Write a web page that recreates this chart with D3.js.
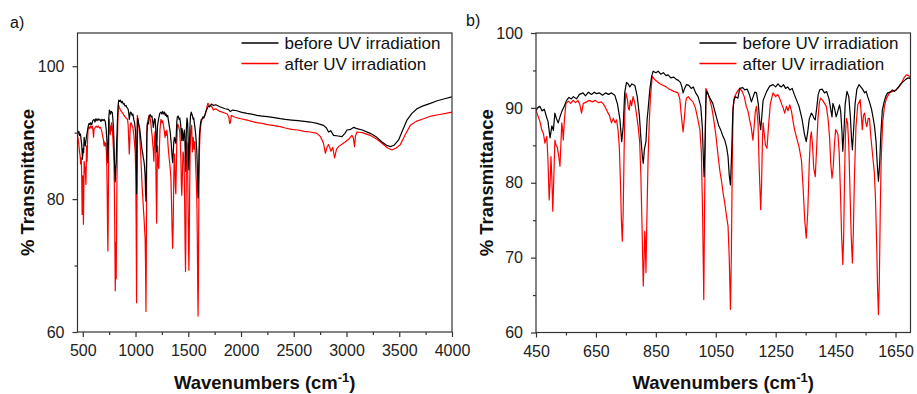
<!DOCTYPE html>
<html>
<head>
<meta charset="utf-8">
<script src="https://cdn.jsdelivr.net/npm/d3@7"></script>
<style>
  body { margin: 0; background: #fff; }
  svg { font-family: "Liberation Sans", Arial, sans-serif; }
  .axis path, .axis line { stroke: #333; stroke-width: 1.2; }
  .axis text { font-size: 16px; fill: #222; }
</style>
</head>
<body>
<svg width="917" height="394"></svg>
<script>
// FTIR spectra, [wavenumber, %T]
// fingerprint region 450-1700 (shared by both panels)
const beforeLow = [[450,89.6],[455,90.0],[463,90.2],[470,89.6],[478,89.8],[485,88.8],[490,88.2],[497,86.0],[503,87.6],[508,87.0],[513,89.3],[518,88.6],[524,88.0],[530,88.8],[536,89.5],[545,90.3],[552,91.0],[560,91.4],[568,91.2],[575,91.5],[585,91.2],[595,91.8],[607,92.0],[615,91.6],[625,92.1],[635,91.8],[645,92.1],[652,91.9],[662,92.0],[672,91.7],[682,92.0],[692,91.8],[702,92.0],[713,91.7],[722,90.5],[730,88.5],[736,85.5],[741,87.5],[746,92.0],[752,93.4],[758,93.2],[763,92.8],[770,93.2],[780,93.0],[788,91.5],[795,89.0],[800,86.0],[805,83.5],[808,82.6],[812,84.5],[817,85.5],[821,88.5],[824,89.7],[830,92.5],[836,94.2],[841,94.9],[850,94.7],[858,94.9],[866,94.5],[875,94.7],[884,94.3],[891,94.4],[900,94.0],[910,94.1],[918,93.8],[924,93.7],[932,93.4],[937,92.8],[941,92.0],[946,92.6],[952,93.1],[960,93.0],[968,92.6],[975,92.8],[983,92.0],[991,91.5],[1000,90.2],[1005,87.5],[1008,84.0],[1011,80.8],[1014,85.0],[1017,90.5],[1019,92.2],[1025,91.8],[1032,91.2],[1040,90.6],[1052,88.8],[1060,87.6],[1067,87.0],[1074,86.2],[1080,85.7],[1086,84.8],[1091,83.5],[1095,81.0],[1099,79.7],[1103,84.0],[1107,89.5],[1111,91.1],[1116,91.5],[1124,91.3],[1130,92.6],[1140,92.7],[1147,92.4],[1155,92.5],[1162,91.8],[1169,90.8],[1175,91.5],[1180,92.1],[1186,92.0],[1192,90.5],[1197,88.0],[1200,87.1],[1204,89.0],[1208,91.0],[1213,91.5],[1220,92.2],[1230,92.9],[1241,93.1],[1250,92.8],[1258,93.2],[1264,92.9],[1269,92.8],[1276,93.1],[1283,92.6],[1290,92.8],[1297,92.4],[1305,92.6],[1312,91.8],[1319,91.1],[1328,90.2],[1338,88.5],[1346,86.5],[1352,85.5],[1357,86.8],[1362,88.5],[1369,89.3],[1374,89.0],[1378,88.6],[1382,88.4],[1387,90.0],[1392,91.8],[1397,92.4],[1405,92.5],[1413,92.0],[1420,92.2],[1428,91.2],[1433,90.0],[1438,88.8],[1441,90.6],[1446,90.0],[1452,88.8],[1457,89.5],[1463,90.4],[1467,89.5],[1471,87.0],[1474,84.2],[1478,87.0],[1482,90.5],[1488,92.2],[1494,91.5],[1499,89.0],[1503,86.0],[1506,84.4],[1510,87.0],[1515,90.5],[1521,92.5],[1528,93.1],[1534,92.8],[1540,92.5],[1547,92.0],[1552,92.2],[1557,91.5],[1563,90.8],[1570,89.8],[1576,88.5],[1580,87.5],[1585,85.5],[1589,82.5],[1593,80.2],[1597,82.5],[1601,86.5],[1606,89.7],[1612,90.8],[1618,91.6],[1624,92.0],[1632,92.1],[1640,92.4],[1647,92.2],[1652,92.4],[1660,92.8],[1668,93.2],[1676,93.5],[1684,93.8],[1691,94.0],[1700,93.9]];

const afterLow = [[450,89.7],[456,89.0],[463,88.2],[469,87.1],[475,86.5],[480,85.3],[486,86.2],[490,83.0],[494,77.7],[497,80.0],[500,83.5],[503,80.5],[506,76.2],[509,80.0],[513,85.7],[517,85.0],[521,84.8],[526,83.5],[530,82.2],[533,85.0],[536,88.0],[539,87.0],[541,85.7],[545,88.5],[550,90.6],[558,90.9],[566,90.6],[574,91.0],[582,90.7],[590,91.0],[596,90.5],[602,89.3],[608,90.6],[619,90.8],[628,91.0],[638,90.8],[648,91.0],[658,90.7],[668,90.8],[675,90.5],[680,90.2],[688,89.5],[695,89.0],[702,88.0],[708,88.6],[714,88.0],[719,88.4],[724,87.0],[728,84.8],[732,80.0],[735,75.0],[738,72.2],[741,76.0],[744,84.0],[747,90.0],[750,92.0],[755,91.2],[758,90.0],[761,89.7],[765,91.0],[769,90.3],[774,91.5],[780,90.6],[786,89.0],[791,87.5],[796,85.5],[800,81.0],[804,74.0],[808,66.2],[811,70.0],[813,73.5],[815,72.0],[817,68.0],[820,75.0],[824,83.0],[828,88.0],[832,91.5],[838,94.2],[846,93.8],[855,93.5],[865,93.2],[875,93.0],[885,92.8],[891,92.6],[900,92.4],[910,92.2],[918,92.1],[924,92.0],[930,91.2],[935,89.0],[941,86.8],[945,88.5],[949,90.5],[952,91.3],[958,91.5],[966,91.1],[974,90.8],[982,90.0],[990,88.5],[997,87.1],[1002,84.0],[1006,76.0],[1010,64.4],[1013,78.0],[1017,92.6],[1022,92.2],[1029,91.2],[1036,90.2],[1043,88.5],[1050,86.5],[1058,83.5],[1064,81.5],[1070,80.0],[1075,78.5],[1080,77.3],[1086,75.5],[1091,74.2],[1095,70.0],[1099,63.1],[1102,70.0],[1105,82.0],[1108,90.2],[1113,91.5],[1119,92.0],[1124,92.3],[1130,92.6],[1138,92.2],[1145,91.5],[1152,90.2],[1158,89.5],[1163,88.4],[1168,87.5],[1174,85.7],[1178,87.5],[1182,89.5],[1186,90.2],[1191,88.0],[1195,82.0],[1200,76.4],[1203,80.0],[1206,86.0],[1208,88.0],[1212,86.5],[1216,85.0],[1221,84.6],[1226,87.5],[1232,90.5],[1241,92.0],[1250,91.5],[1257,91.8],[1263,91.3],[1270,90.5],[1275,90.0],[1280,89.3],[1286,90.2],[1291,89.6],[1297,90.4],[1303,89.5],[1308,88.2],[1313,87.1],[1320,86.0],[1328,84.8],[1336,83.0],[1342,79.0],[1347,75.0],[1352,72.6],[1357,76.0],[1362,82.5],[1366,86.0],[1369,86.8],[1373,85.0],[1377,82.0],[1382,80.8],[1386,84.0],[1391,88.5],[1396,90.8],[1400,91.3],[1407,91.0],[1413,90.6],[1419,90.2],[1425,88.5],[1430,86.0],[1434,82.5],[1438,80.6],[1442,82.0],[1446,85.0],[1450,87.1],[1454,86.8],[1458,86.4],[1462,84.0],[1466,79.0],[1470,73.0],[1474,69.1],[1477,73.0],[1480,81.0],[1483,86.5],[1486,88.6],[1490,88.0],[1494,85.0],[1498,79.0],[1502,73.0],[1506,69.3],[1509,73.0],[1513,81.0],[1518,87.5],[1524,90.4],[1532,91.1],[1535,89.5],[1539,87.1],[1543,89.0],[1547,89.3],[1551,88.0],[1554,87.5],[1559,88.6],[1563,88.6],[1568,86.0],[1574,83.5],[1579,81.5],[1583,78.0],[1587,72.0],[1590,66.0],[1593,62.4],[1596,67.0],[1599,76.0],[1602,83.0],[1607,88.0],[1613,90.2],[1620,91.3],[1630,92.0],[1640,92.2],[1652,92.4],[1660,92.7],[1670,93.3],[1678,94.0],[1686,94.4],[1694,94.3],[1700,94.0]];

// 1700-4000, only in panel a
const beforeHigh = [[1700,93.9],[1720,94.3],[1740,94.1],[1760,94.2],[1800,93.9],[1850,93.6],[1880,93.5],[1897,93.2],[1920,93.4],[1960,93.3],[2000,93.1],[2056,92.9],[2100,92.8],[2150,92.6],[2200,92.5],[2250,92.4],[2300,92.3],[2372,92.1],[2420,92.0],[2480,91.9],[2540,91.8],[2600,91.7],[2658,91.6],[2720,91.4],[2782,91.1],[2810,90.7],[2830,90.1],[2850,90.3],[2877,89.6],[2920,89.5],[2957,89.4],[2985,89.9],[3004,90.4],[3040,90.5],[3070,90.8],[3099,90.6],[3150,90.4],[3225,89.9],[3280,89.4],[3336,88.6],[3380,88.1],[3415,87.9],[3450,88.1],[3494,88.9],[3530,90.3],[3573,91.9],[3620,92.9],[3668,93.6],[3720,94.0],[3794,94.4],[3860,94.8],[3930,95.1],[4000,95.4]];

const afterHigh = [[1700,94.0],[1720,94.0],[1738,93.4],[1760,93.6],[1800,93.2],[1840,93.0],[1870,92.8],[1885,92.3],[1892,91.4],[1900,91.5],[1908,92.6],[1930,92.4],[1970,92.2],[2000,92.1],[2056,91.9],[2100,91.7],[2150,91.5],[2200,91.4],[2250,91.2],[2300,91.1],[2372,90.9],[2420,90.7],[2480,90.5],[2540,90.4],[2600,90.2],[2658,90.1],[2720,89.9],[2753,89.4],[2780,88.5],[2800,86.9],[2815,87.8],[2830,88.2],[2853,87.2],[2870,87.8],[2887,86.2],[2905,87.5],[2924,87.9],[2960,88.3],[2987,88.6],[3020,89.0],[3051,89.6],[3065,89.2],[3076,87.9],[3085,89.5],[3099,90.1],[3150,90.0],[3225,89.6],[3280,89.1],[3336,88.4],[3390,87.7],[3431,87.4],[3470,87.7],[3510,88.2],[3560,89.8],[3605,91.1],[3660,91.7],[3731,92.1],[3800,92.5],[3870,92.7],[3940,92.9],[4000,93.1]];

const seriesNames = ['before UV irradiation', 'after UV irradiation'];
const seriesColors = ['#000000', '#ff0000'];

const xTicksA = [500, 1000, 1500, 2000, 2500, 3000, 3500, 4000];
const xMinorA = [750, 1250, 1750, 2250, 2750, 3250, 3750];
const yTicksA = [60, 80, 100];
const yMinorA = [70, 90];
const xTicksB = [450, 650, 850, 1050, 1250, 1450, 1650];
const xMinorB = [550, 750, 950, 1150, 1350, 1550];
const yTicksB = [60, 70, 80, 90, 100];
const yMinorB = [65, 75, 85, 95];

const svg = d3.select('svg');

function drawPanel(opt) {
  const x = d3.scaleLinear().domain(opt.xDomain).range([opt.left, opt.right]);
  const y = d3.scaleLinear().domain(opt.yDomain).range([opt.bottom, opt.top]);
  const g = svg.append('g');

  g.append('clipPath').attr('id', opt.id + '-clip')
    .append('rect')
    .attr('x', opt.left).attr('y', opt.top)
    .attr('width', opt.right - opt.left).attr('height', opt.bottom - opt.top);

  const line = d3.line().x(d => x(d[0])).y(d => y(d[1]));
  const plot = g.append('g').attr('clip-path', 'url(#' + opt.id + '-clip)');
  // red first, black on top
  [1, 0].forEach(i => {
    plot.append('path')
      .datum(opt.series[i])
      .attr('fill', 'none')
      .attr('stroke', seriesColors[i])
      .attr('stroke-width', 1.2)
      .attr('stroke-linejoin', 'round')
      .attr('d', line);
  });

  // frame
  g.append('rect')
    .attr('x', opt.left).attr('y', opt.top)
    .attr('width', opt.right - opt.left).attr('height', opt.bottom - opt.top)
    .attr('fill', 'none').attr('stroke', '#333').attr('stroke-width', 1.2);

  // axes with minor ticks
  g.append('g').attr('class', 'axis')
    .attr('transform', 'translate(0,' + opt.bottom + ')')
    .call(d3.axisBottom(x).tickValues(opt.xTicks).tickFormat(d3.format('d'))
      .tickSize(5).tickPadding(8).tickSizeOuter(0));
  g.append('g').attr('class', 'axis')
    .attr('transform', 'translate(0,' + opt.bottom + ')')
    .call(d3.axisBottom(x).tickValues(opt.xMinor).tickFormat('').tickSize(3).tickSizeOuter(0));
  g.append('g').attr('class', 'axis')
    .attr('transform', 'translate(' + opt.left + ',0)')
    .call(d3.axisLeft(y).tickValues(opt.yTicks).tickSize(5).tickPadding(8).tickSizeOuter(0));
  g.append('g').attr('class', 'axis')
    .attr('transform', 'translate(' + opt.left + ',0)')
    .call(d3.axisLeft(y).tickValues(opt.yMinor).tickFormat('').tickSize(3).tickSizeOuter(0));
  g.selectAll('.axis .domain').remove();

  // axis titles
  const xt = g.append('text')
    .attr('x', (opt.left + opt.right) / 2).attr('y', 389)
    .attr('text-anchor', 'middle')
    .style('font-size', '18.5px').style('font-weight', 'bold').attr('fill', '#111');
  xt.append('tspan').text('Wavenumbers (cm');
  xt.append('tspan').text('-1').attr('dy', -7).style('font-size', '13px');
  xt.append('tspan').text(')').attr('dy', 7);

  g.append('text')
    .attr('transform', 'translate(' + opt.yTitleX + ',' + (opt.top + opt.bottom) / 2 + ') rotate(-90)')
    .attr('text-anchor', 'middle')
    .style('font-size', '18.5px').style('font-weight', 'bold').attr('fill', '#111')
    .text('% Transmittance');

  // panel label
  g.append('text').attr('x', opt.labelX).attr('y', opt.labelY)
    .style('font-size', '16px').attr('fill', '#111').text(opt.label);

  // legend
  seriesNames.forEach((name, i) => {
    const ly = opt.legendY + i * 20.5;
    g.append('line')
      .attr('x1', opt.legendX).attr('x2', opt.legendX + 37)
      .attr('y1', ly).attr('y2', ly)
      .attr('stroke', seriesColors[i]).attr('stroke-width', 1.3);
    g.append('text')
      .attr('x', opt.legendX + 43).attr('y', ly + 6)
      .style('font-size', '17px').attr('fill', '#111')
      .text(name);
  });
}

drawPanel({
  id: 'a', label: 'a)', labelX: 10, labelY: 28,
  left: 77.5, right: 452, top: 33, bottom: 332,
  xDomain: [450, 4000], yDomain: [60, 105],
  xTicks: xTicksA, xMinor: xMinorA, yTicks: yTicksA, yMinor: yMinorA,
  series: [beforeLow.concat(beforeHigh.slice(1)), afterLow.concat(afterHigh.slice(1))],
  yTitleX: 34, legendX: 241.5, legendY: 43
});

drawPanel({
  id: 'b', label: 'b)', labelX: 466, labelY: 26,
  left: 536, right: 910.5, top: 33, bottom: 332.5,
  xDomain: [450, 1700], yDomain: [60, 100],
  xTicks: xTicksB, xMinor: xMinorB, yTicks: yTicksB, yMinor: yMinorB,
  series: [beforeLow, afterLow],
  yTitleX: 493, legendX: 699.5, legendY: 43
});
</script>
</body>
</html>
